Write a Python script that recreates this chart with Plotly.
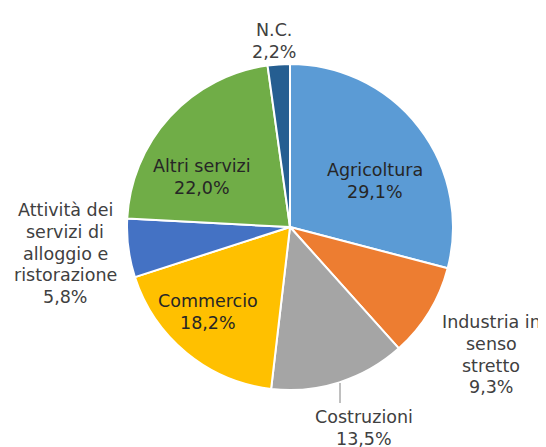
import plotly.graph_objects as go

categories = ["Agricoltura", "Industria in senso stretto", "Costruzioni", "Commercio",
              "Attività dei servizi di alloggio e ristorazione", "Altri servizi", "N.C."]
values = [29.1, 9.3, 13.5, 18.2, 5.8, 22.0, 2.2]
value_labels = ["29,1%", "9,3%", "13,5%", "18,2%", "5,8%", "22,0%", "2,2%"]
label_lines = [["Agricoltura"], ["Industria in", "senso", "stretto"], ["Costruzioni"], ["Commercio"],
               ["Attività dei", "servizi di", "alloggio e", "ristorazione"], ["Altri servizi"], ["N.C."]]

colors = ["#5B9BD5", "#ED7D31", "#A5A5A5", "#FFC000", "#4472C4", "#70AD47", "#255E91"]
inside = [True, False, False, True, False, True, False]

W, H = 546, 447
OFF = 8  # page body margin
cx, cy, R = 290 - OFF, 227 - OFF, 163

# label block positions in page pixels (x center, y center of first line)
label_pos = [(375, 170), (491, 322), (364, 417), (208, 301), (65, 210), (202, 166), (274, 30)]
line_gap = 21.8

fig = go.Figure(go.Pie(
    labels=categories, values=values, sort=False, direction="clockwise", rotation=0,
    marker=dict(colors=colors, line=dict(color="white", width=2)),
    textinfo="none", hoverinfo="label+percent", showlegend=False,
    domain=dict(x=[(cx - R) / W, (cx + R) / W], y=[(H - cy - R) / H, (H - cy + R) / H]),
))

annotations = []
for lines, val, (px, py), ins in zip(label_lines, value_labels, label_pos, inside):
    for i, t in enumerate(lines + [val]):
        annotations.append(dict(
            x=(px - OFF) / W, y=1 - (py - OFF + i * line_gap) / H, xref="paper", yref="paper",
            text=t, showarrow=False, xanchor="center", yanchor="middle",
            font=dict(family="DejaVu Sans", size=17.5, color="#262626" if ins else "#404040"),
        ))

fig.update_layout(
    width=W, height=H, margin=dict(l=0, r=0, t=0, b=0),
    paper_bgcolor="white", plot_bgcolor="white",
    annotations=annotations,
    shapes=[dict(type="line", xref="paper", yref="paper",
                 x0=(340 - OFF) / W, x1=(340 - OFF) / W,
                 y0=1 - (383 - OFF) / H, y1=1 - (403 - OFF) / H,
                 line=dict(color="#808080", width=1))],
)
fig.write_html("out.html")
